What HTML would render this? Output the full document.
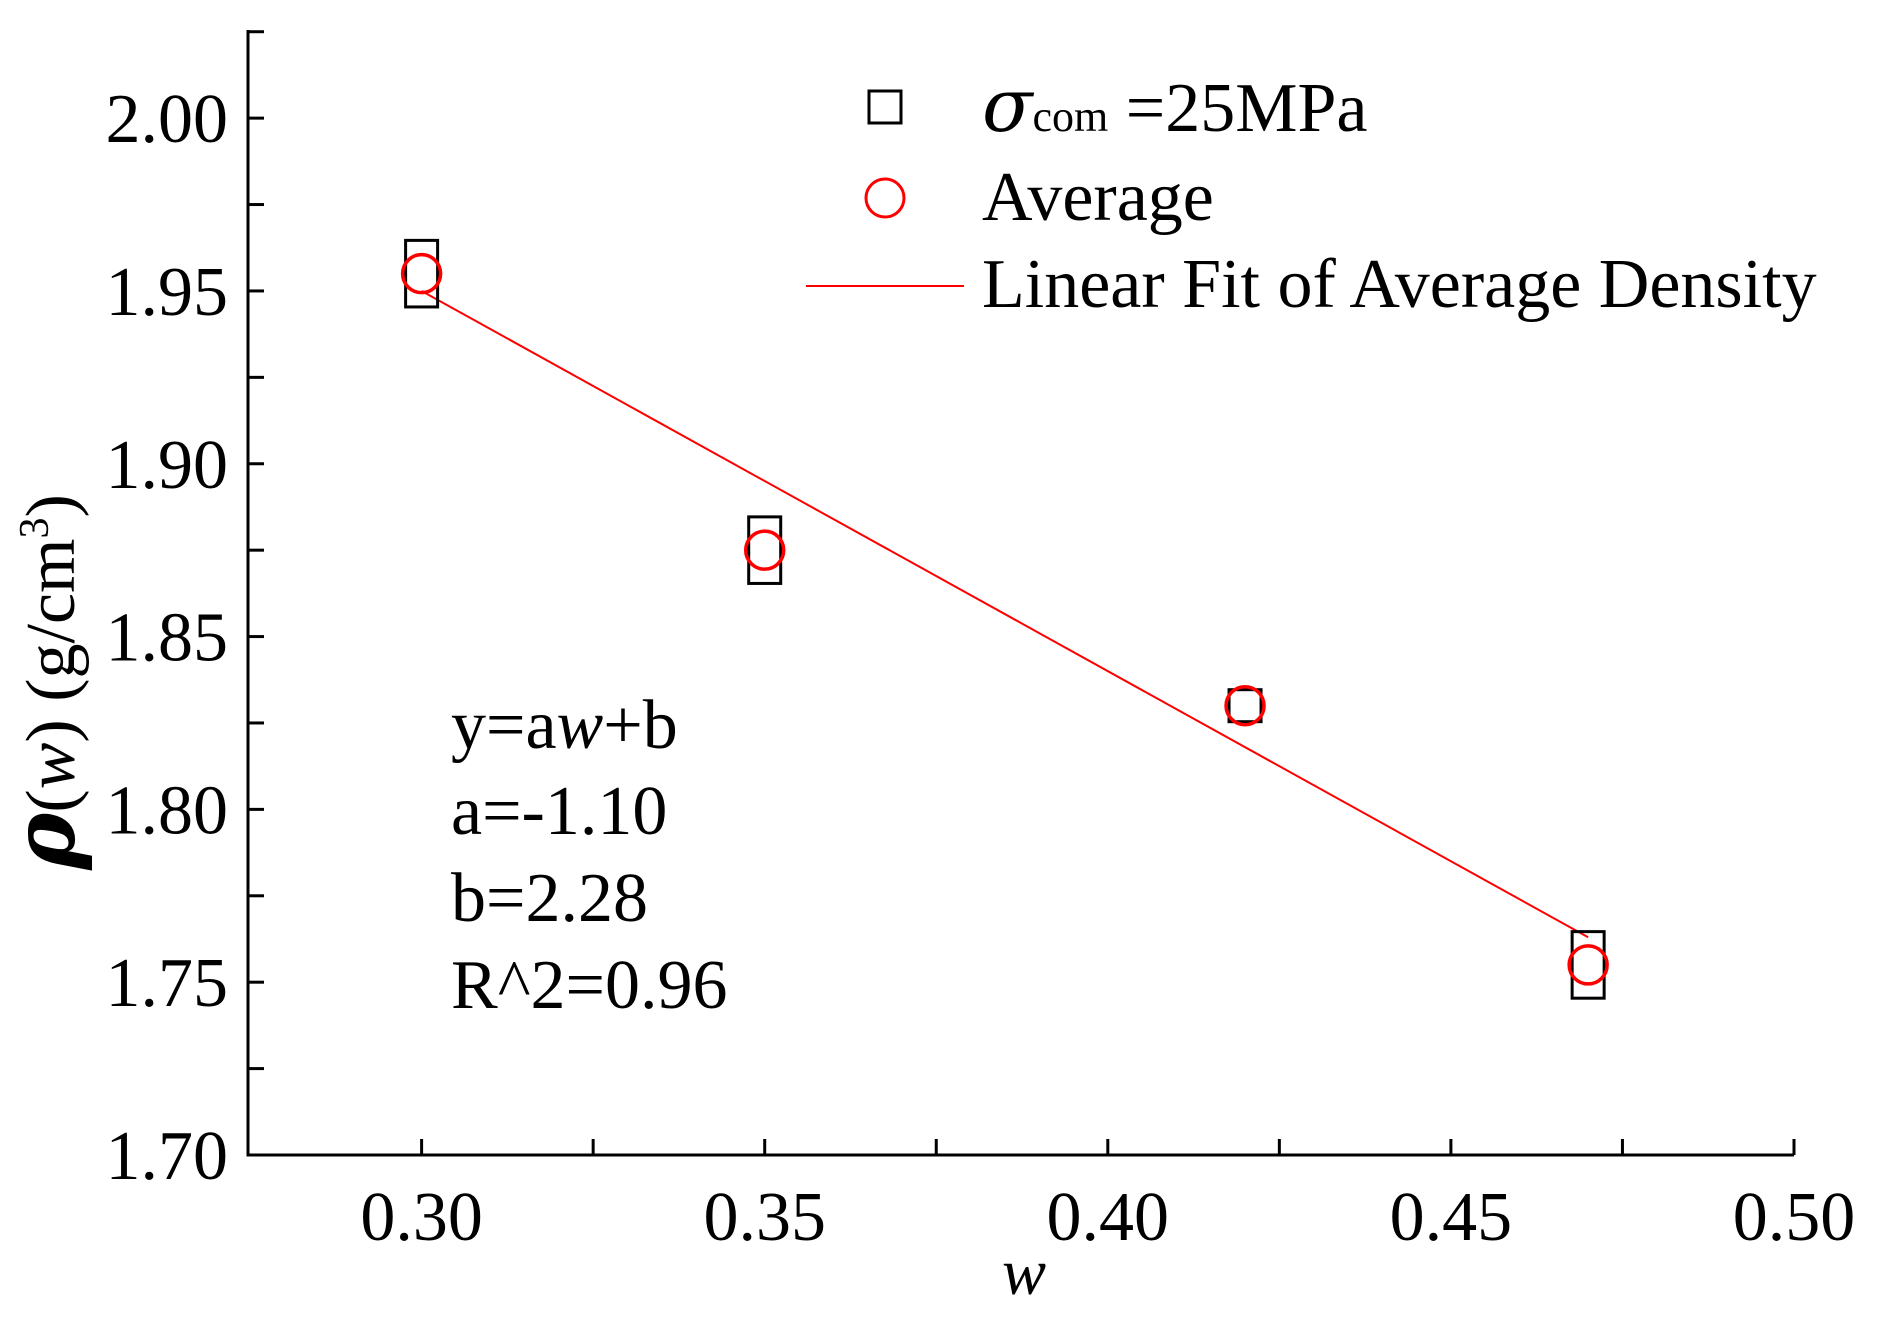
<!DOCTYPE html>
<html><head><meta charset="utf-8"><style>
html,body{margin:0;padding:0;background:#fff;}
svg{display:block;font-family:"Liberation Serif",serif;}
</style></head><body>
<svg id="chart" width="1891" height="1320" viewBox="0 0 1891 1320" xmlns="http://www.w3.org/2000/svg">
<g id="axes"></g>
<g id="marks"></g>
<g>
  <rect x="869" y="91" width="32" height="32" fill="none" stroke="#000" stroke-width="3"/>
  <text x="982" y="131" font-size="70"><tspan font-style="italic" font-size="74" font-family="DejaVu Serif, serif">σ</tspan><tspan font-size="44">com</tspan> =25MPa</text>
  <circle cx="885" cy="198" r="19" fill="none" stroke="#f00" stroke-width="3"/>
  <text x="982" y="220" font-size="70">Average</text>
  <line x1="806" y1="286" x2="964" y2="286" stroke="#f00" stroke-width="2"/>
  <text x="982" y="307" font-size="70">Linear Fit of Average Density</text>
</g>
<g font-size="70">
  <text x="451" y="748">y=a<tspan font-style="italic">w</tspan>+b</text>
  <text x="451" y="834">a=-1.10</text>
  <text x="451" y="921">b=2.28</text>
  <text x="451" y="1008">R^2=0.96</text>
</g>
<text transform="translate(74,682) rotate(-90)" text-anchor="middle" font-size="70"><tspan font-style="italic" font-weight="bold" font-size="86" font-family="DejaVu Serif, serif">ρ</tspan><tspan>(</tspan><tspan font-style="italic">w</tspan><tspan>)  (g/cm</tspan><tspan font-size="42" dy="-26">3</tspan><tspan dy="26">)</tspan></text>
<text x="1024" y="1294" text-anchor="middle" font-size="66" font-style="italic">w</text>
</svg>
<script>
const xTicks=[0.30,0.35,0.40,0.45,0.50];
const xTickLabels=["0.30","0.35","0.40","0.45","0.50"];
const yTicks=[1.70,1.75,1.80,1.85,1.90,1.95,2.00];
const yTickLabels=["1.70","1.75","1.80","1.85","1.90","1.95","2.00"];
const wValues=[0.30,0.35,0.42,0.47];
const sampleHigh=[1.960,1.880,1.830,1.760];
const sampleLow=[1.950,1.870,1.830,1.750];
const averages=[1.955,1.875,1.830,1.755];
const fitA=[-1.10];
const fitB=[2.28];

const X0=248,X1=1794,Y0=1155,Y1=30;
const xMin=0.2747,xMax=0.5,yMin=1.70,yMax=2.0255;
const xs=v=>X0+(v-xMin)/(xMax-xMin)*(X1-X0);
const ys=v=>Y0-(v-yMin)/(yMax-yMin)*(Y0-Y1);
const NS="http://www.w3.org/2000/svg";
function mk(tag,attrs,parent){const e=document.createElementNS(NS,tag);for(const k in attrs)e.setAttribute(k,attrs[k]);parent.appendChild(e);return e;}
const axes=document.getElementById('axes'),marks=document.getElementById('marks');
let e;
e=mk('line',{x1:X0,y1:Y1,x2:X0,y2:Y0+1.5,stroke:'#000','stroke-width':3},axes);


e=mk('line',{x1:X0-1.5,y1:Y0,x2:X1,y2:Y0,stroke:'#000','stroke-width':3},axes);


for(let i=0;i<xTicks.length;i++){
  const x=xs(xTicks[i]);
  e=mk('line',{x1:x,y1:Y0,x2:x,y2:Y0-16,stroke:'#000','stroke-width':3},axes);
  
  
  e=mk('text',{x:x,y:1240,'text-anchor':'middle','font-size':70},axes);
  e.textContent=xTickLabels[i];
  
  
  if(i<xTicks.length-1){
    const xm=xs((xTicks[i]+xTicks[i+1])/2);
    e=mk('line',{x1:xm,y1:Y0,x2:xm,y2:Y0-16,stroke:'#000','stroke-width':3},axes);
    
    
  }
}
for(let i=0;i<yTicks.length;i++){
  const y=ys(yTicks[i]);
  e=mk('line',{x1:X0,y1:y,x2:X0+16,y2:y,stroke:'#000','stroke-width':3},axes);
  
  
  e=mk('text',{x:228,y:y+24,'text-anchor':'end','font-size':70},axes);
  e.textContent=yTickLabels[i];
  
  
  const ym=ys(yTicks[i]+0.025);
  if(ym>Y1){
    e=mk('line',{x1:X0,y1:ym,x2:X0+16,y2:ym,stroke:'#000','stroke-width':3},axes);
    
    
  }
}
const fx0=wValues[0],fx1=wValues[wValues.length-1];
e=mk('line',{x1:xs(fx0),y1:ys(fitA[0]*fx0+fitB[0]),x2:xs(fx1),y2:ys(fitA[0]*fx1+fitB[0]),stroke:'#f00','stroke-width':2},marks);


const S=32;
for(let i=0;i<wValues.length;i++){
  const x=xs(wValues[i]);
  const yt=ys(sampleHigh[i])-S/2, yb=ys(sampleLow[i])+S/2;
  e=mk('rect',{x:x-S/2,y:yt,width:S,height:yb-yt,fill:'none',stroke:'#000','stroke-width':3},marks);
  
  
}
for(let i=0;i<wValues.length;i++){
  e=mk('circle',{cx:xs(wValues[i]),cy:ys(averages[i]),r:19,fill:'none',stroke:'#f00','stroke-width':3.5},marks);
  
  
}
</script>
</body></html>
